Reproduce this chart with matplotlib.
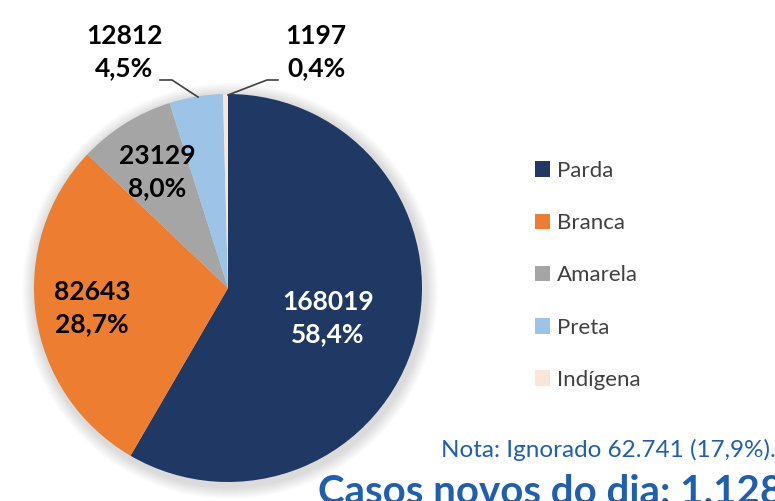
import matplotlib
matplotlib.use('Agg')
import matplotlib.pyplot as plt
from matplotlib.patches import Circle

plt.rcParams['font.family'] = ['Lato', 'DejaVu Sans']

# dados
categorias = ['Parda', 'Branca', 'Amarela', 'Preta', 'Indígena']
casos = [168019, 82643, 23129, 12812, 1197]
percentuais = ['58,4%', '28,7%', '8,0%', '4,5%', '0,4%']
cores = ['#1F3864', '#ED7D31', '#A5A5A5', '#9DC3E6', '#FBE5D6']
nota = 'Nota: Ignorado 62.741 (17,9%).'
titulo = 'Casos novos do dia: 1.128'

W, H = 775, 501
fig = plt.figure(figsize=(W / 100, H / 100), dpi=100)
ax = fig.add_axes([0, 0, 1, 1])

cx, cy, r = 228, H - 288, 194

# sombra suave em volta da pizza
for i in range(12):
    ax.add_patch(Circle((cx + 2, cy - 3), r + 14 - i, color='black',
                        alpha=0.012, lw=0, zorder=0))

wedges, _ = ax.pie(casos, colors=cores, startangle=90, counterclock=False,
                   center=(cx, cy), radius=r, frame=True,
                   wedgeprops=dict(linewidth=0))
for w in wedges:
    w.set_zorder(2)

ax.set_xlim(0, W)
ax.set_ylim(0, H)
ax.set_aspect('equal')
ax.axis('off')

# rótulos (posição em pixels, y de cima para baixo)
pos = [(328, 318, 'white'), (92, 308, 'black'), (157, 172, 'black'),
       (124, 52, 'black'), (316, 52, 'black')]
for (x, y, c), n, p in zip(pos, casos, percentuais):
    ax.text(x, H - y, f'{n}\n{p}', ha='center', va='center', color=c,
            fontsize=19, fontweight='bold', linespacing=1.45, zorder=3)

# linhas de chamada
ax.plot([160, 172, 198], [H - 80, H - 80, H - 97], color='#404040', lw=1.2, zorder=3)
ax.plot([278, 267, 228], [H - 80, H - 80, H - 95], color='#404040', lw=1.2, zorder=3)

leg = ax.legend(wedges, categorias, loc='upper left', bbox_to_anchor=(526 / W, 1 - 152 / H),
                frameon=False, fontsize=16, handlelength=0.7, handleheight=0.7,
                handletextpad=0.3, labelspacing=1.45, borderaxespad=0)
for t in leg.get_texts():
    t.set_color('#404040')

ax.text(776, H - 450, nota, ha='right', va='center', color='#1F5FAD', fontsize=17.5)
ax.text(318, H - 492, titulo, ha='left', va='center', color='#1F5FAD',
        fontsize=29, fontweight='bold')

fig.savefig('out.png', dpi=100)
